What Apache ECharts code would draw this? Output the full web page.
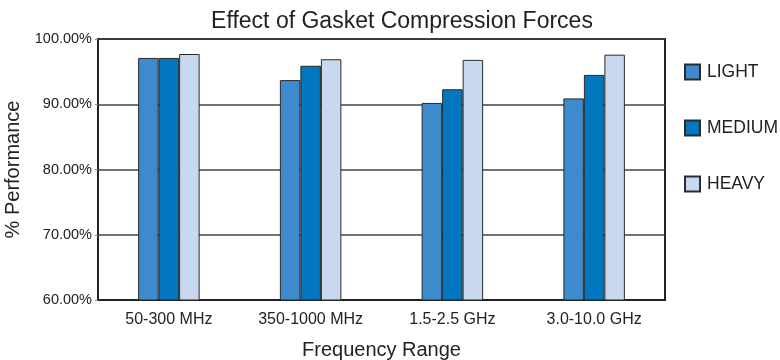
<!DOCTYPE html>
<html><head><meta charset="utf-8">
<script src="https://cdn.jsdelivr.net/npm/echarts@6/dist/echarts.min.js"></script>
<style>html,body{margin:0;padding:0;background:#fff}#c{width:780px;height:360px}</style>
</head><body><div id="c"></div>
<script>
const categories = ['50-300 MHz','350-1000 MHz','1.5-2.5 GHz','3.0-10.0 GHz'];
const light  = [97.1, 93.7, 90.2, 90.9];
const medium = [97.1, 95.9, 92.3, 94.5];
const heavy  = [97.7, 96.9, 96.8, 97.6];
const seriesNames = ['LIGHT','MEDIUM','HEAVY'];
const colors = ['#3d8bcc','#0277bf','#c8d8ee'];
const font = 'Liberation Sans, Arial, sans-serif';
const chart = echarts.init(document.getElementById('c'));
chart.setOption({
  animation:false,
  title:{text:'Effect of Gasket Compression Forces',left:397,textAlign:'center',top:5,
    textStyle:{fontFamily:font,fontSize:23,fontWeight:'normal',color:'#222'}},
  grid:{left:98,right:115,top:39,bottom:60,containLabel:false,outerBoundsMode:'none',
    show:true,borderColor:'#222',borderWidth:2,backgroundColor:'#fff'},
  legend:{orient:'vertical',left:679,top:58,itemGap:38,itemWidth:15,itemHeight:15,icon:'rect',
    textStyle:{fontFamily:font,fontSize:17.5,color:'#222',padding:[0,0,0,2]},data:seriesNames},
  xAxis:{type:'category',data:categories,name:'Frequency Range',nameLocation:'middle',nameGap:40,
    nameTextStyle:{fontFamily:font,fontSize:20,color:'#222'},
    axisLine:{lineStyle:{color:'#222',width:2}},axisTick:{show:false},
    axisLabel:{fontFamily:font,fontSize:16,color:'#222',margin:12}},
  yAxis:{type:'value',min:60,max:100,interval:10,name:'% Performance',nameLocation:'middle',nameGap:69,
    nameTextStyle:{fontFamily:font,fontSize:20,color:'#222'},
    axisLine:{show:true,lineStyle:{color:'#222',width:2}},
    axisTick:{show:true,length:3,lineStyle:{color:'#888'}},
    axisLabel:{fontFamily:font,fontSize:14.5,color:'#222',margin:6,formatter:v=>v.toFixed(2)+'%'},
    splitLine:{lineStyle:{color:'#444',width:1.5}}},
  series:[light,medium,heavy].map((d,i)=>({
    name:seriesNames[i],type:'bar',data:d,barWidth:20.5,barGap:'0%',
    itemStyle:{color:colors[i],borderColor:'#2a2a2a',borderWidth:1}
  }))
});
</script></body></html>
